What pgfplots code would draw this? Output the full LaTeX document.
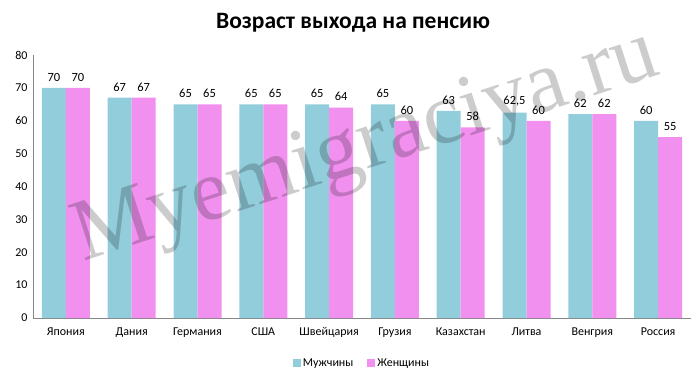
\documentclass[border=0pt]{standalone}
\usepackage{pgfplots}
\pgfplotsset{compat=1.18}
\usepackage{fontspec}
\setmainfont{Carlito}
\newfontfamily\wmfont{Liberation Serif}
\definecolor{men}{HTML}{92CDDC}
\definecolor{women}{HTML}{F190EE}
\definecolor{axgray}{HTML}{868686}
\begin{document}
\begin{tikzpicture}
\path[use as bounding box] (-33pt,-60pt) rectangle (667pt,318pt);
\begin{axis}[
  at={(0pt,0pt)}, anchor=south west,
  scale only axis, width=658pt, height=263pt,
  ybar=0pt, bar width=24pt,
  xmin=-0.5, xmax=9.5, ymin=0, ymax=80,
  ytick={0,10,...,80},
  xtick={0,...,9},
  xticklabels={Япония,Дания,Германия,США,Швейцария,Грузия,Казахстан,Литва,Венгрия,Россия},
  axis x line*=bottom, axis y line*=left,
  axis line style={-, axgray, line width=0.8pt},
  major tick length=0pt,
  tick label style={font=\fontsize{12}{14}\selectfont},
  /pgf/number format/assume math mode=true,
  /pgf/number format/use comma,
  xticklabel style={yshift=-6pt},
  yticklabel style={xshift=-2pt},
  nodes near coords,
  nodes near coords style={font=\fontsize{12.5}{14}\selectfont, black, yshift=3pt, /pgf/number format/assume math mode=true, /pgf/number format/use comma},
  legend style={at={(0.5,-45pt)}, anchor=center, draw=none, legend columns=2,
    font=\fontsize{12}{14}\selectfont, /tikz/every even column/.append style={column sep=12pt}},
  legend image code/.code={\fill[#1] (0pt,-4pt) rectangle (8pt,4pt);},
  clip=false,
]
\addplot[fill=men, draw=none] coordinates {(0,70) (1,67) (2,65) (3,65) (4,65) (5,65) (6,63) (7,62.5) (8,62) (9,60)};
\addplot[fill=women, draw=none] coordinates {(0,70) (1,67) (2,65) (3,65) (4,64) (5,60) (6,58) (7,60) (8,62) (9,55)};
\legend{Мужчины,Женщины}
\end{axis}
\node[font=\bfseries\fontsize{23.5}{26}\selectfont] at (320pt,295pt) {Возраст выхода на пенсию};
\node[font=\wmfont\fontsize{88}{90}\selectfont, anchor=base west, rotate=18, text=black, text opacity=0.2, inner sep=0pt] at (50pt,56pt) {Myemigraciya.ru};
\end{tikzpicture}
\end{document}
